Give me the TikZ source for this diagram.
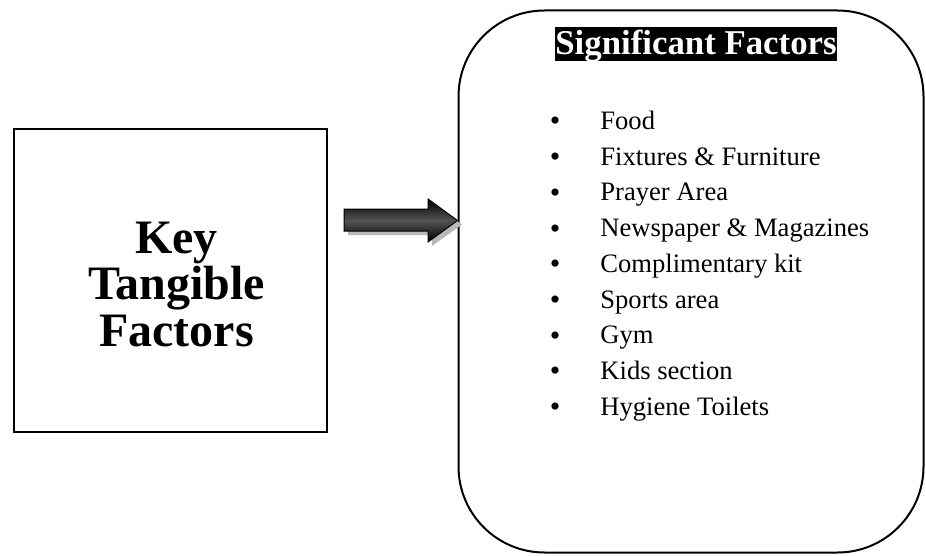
\documentclass[tikz,border=0pt]{standalone}
\usepackage{fontspec}
\setmainfont{Liberation Serif}
\usetikzlibrary{calc}

\begin{document}
\begin{tikzpicture}[x=0.5pt,y=-0.5pt,
	keybox/.style = {rectangle, draw, line width=0.75pt,
		minimum width=156.5pt, minimum height=151.5pt},
	keytext/.style = {align=center,
		font=\fontsize{24}{23.2}\selectfont\bfseries},
	sigbox/.style = {rectangle, draw, line width=1pt,
		rounded corners=43pt,
		minimum width=232.5pt, minimum height=271pt},
	head/.style = {fill=black, text=white, inner xsep=0.3pt, inner ysep=0pt,
		text height=14pt, text depth=2.8pt,
		font=\fontsize{17.4}{20}\selectfont\bfseries},
	bullet/.style = {inner sep=0pt, font=\fontsize{15}{18}\selectfont},
	item/.style = {inner sep=0pt, font=\fontsize{13.3}{16}\selectfont}]
	
	\useasboundingbox (0,0) rectangle (926,556);
	
	% Key tangible factors
	\node[keybox] (key) at (170.5,280.5) {};
	\node[keytext] (keylabel) at ($(key.center)+(6,4)$) {Key\\Tangible\\Factors};
	
	% Significant factors
	\node[sigbox] (sig) at (691,281.5) {};
	\node[head, anchor=base] (title) at (696,55) {Significant Factors};
	
	% List
	\foreach \name [count=\k from 0] in {Food, Fixtures \& Furniture, Prayer Area,
		Newspaper \& Magazines, Complimentary kit, Sports area, Gym,
		Kids section, Hygiene Toilets}
	{
		\node[bullet, anchor=base] (bullet\k) at (555,131+35.7*\k) {\textbullet};
		\node[item, anchor=base west] (item\k) at (600,129.5+35.7*\k) {\name};
	}
	
	% Arrow shadow
	\fill[gray!55, shift={(4,4)}] (344,209) -- (428,209) -- (428,199) -- (458,220.5)
		-- (428,242) -- (428,231) -- (344,231) -- cycle;
	
	% Arrow
	\coordinate (tail) at (344,220);
	\coordinate (tip) at (sig.west |- 0,220.5);
	\shade[draw=black, line width=0.5pt, top color=black, bottom color=black,
		middle color=gray!65!black]
		(tail) ++(0,-11) -- (428,209) -- (428,199) -- (tip)
		-- (428,242) -- (428,231) -- ($(tail)+(0,11)$) -- cycle;
	
\end{tikzpicture}
\end{document}
